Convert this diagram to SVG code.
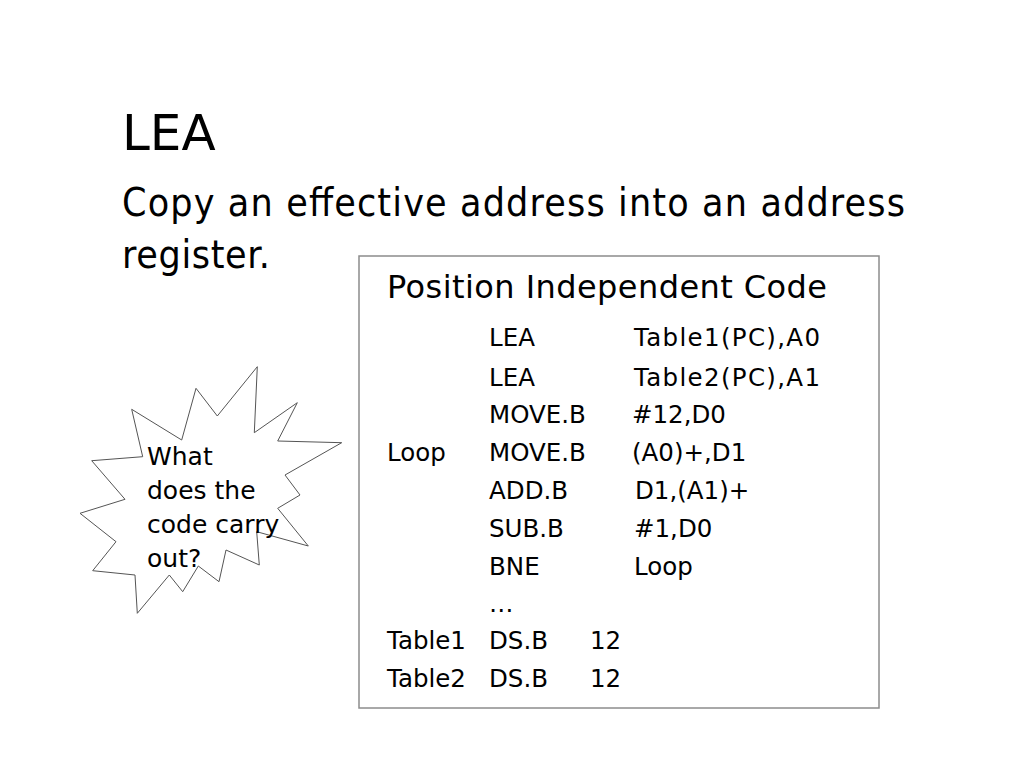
<svg xmlns="http://www.w3.org/2000/svg" width="1024" height="768" viewBox="0 0 1024 768">
<style>
.comic{font-family:"Comic Sans MS","DejaVu Sans",sans-serif;fill:#000}
.body{font-family:Tahoma,"DejaVu Sans Condensed","DejaVu Sans",sans-serif;fill:#000}
.code{font-size:24.5px}
</style>
<rect width="1024" height="768" fill="#fff"/>
<g id="title">
<text class="comic" x="122" y="150" font-size="50">LEA</text>
</g>
<g id="subtitle">
<text class="body" x="122" y="216" font-size="39" textLength="783">Copy an effective address into an address</text>
<text class="body" x="122" y="268" font-size="39" textLength="148">register.</text>
</g>
<g id="code-box">
<rect x="359" y="256" width="520" height="452" fill="#fff" stroke="#8c8c8c" stroke-width="1.5"/>
<text class="comic" x="387" y="298" font-size="32" textLength="440">Position Independent Code</text>
<g class="comic code">
<text x="489" y="346">LEA</text><text x="634" y="346" textLength="186">Table1(PC),A0</text>
<text x="489" y="386">LEA</text><text x="634" y="386" textLength="186">Table2(PC),A1</text>
<text x="489" y="423">MOVE.B</text><text x="632" y="423">#12,D0</text>
<text x="387" y="461">Loop</text><text x="489" y="461">MOVE.B</text><text x="632" y="461">(A0)+,D1</text>
<text x="489" y="499">ADD.B</text><text x="635" y="499">D1,(A1)+</text>
<text x="489" y="537">SUB.B</text><text x="634" y="537">#1,D0</text>
<text x="489" y="575">BNE</text><text x="634" y="575">Loop</text>
<text x="489" y="612">…</text>
<text x="387" y="649">Table1</text><text x="489" y="649">DS.B</text><text x="590" y="649">12</text>
<text x="387" y="687">Table2</text><text x="489" y="687">DS.B</text><text x="590" y="687">12</text>
</g>
</g>
<g id="starburst">
<polygon points="131.7,409.3 181.7,440 196,388.3 217.3,416 257.3,366.7 254.3,432.7 297.3,402.7 277.7,441 341.7,442.7 285,475 300,495 277.7,508.3 308.3,546 256.7,531.7 259.3,565 226,550 219,581.7 198.3,566 182.7,591.7 169.3,575 137.3,613.3 135,575 92.7,570.7 116,541.7 80,513.3 125,499.3 91.7,460.7 142.7,456.7" fill="#fff" stroke="#555" stroke-width="1"/>
<g class="comic" font-size="25">
<text x="147" y="465">What</text>
<text x="147" y="499">does the</text>
<text x="147" y="533">code carry</text>
<text x="147" y="567">out?</text>
</g>
</g>
</svg>
